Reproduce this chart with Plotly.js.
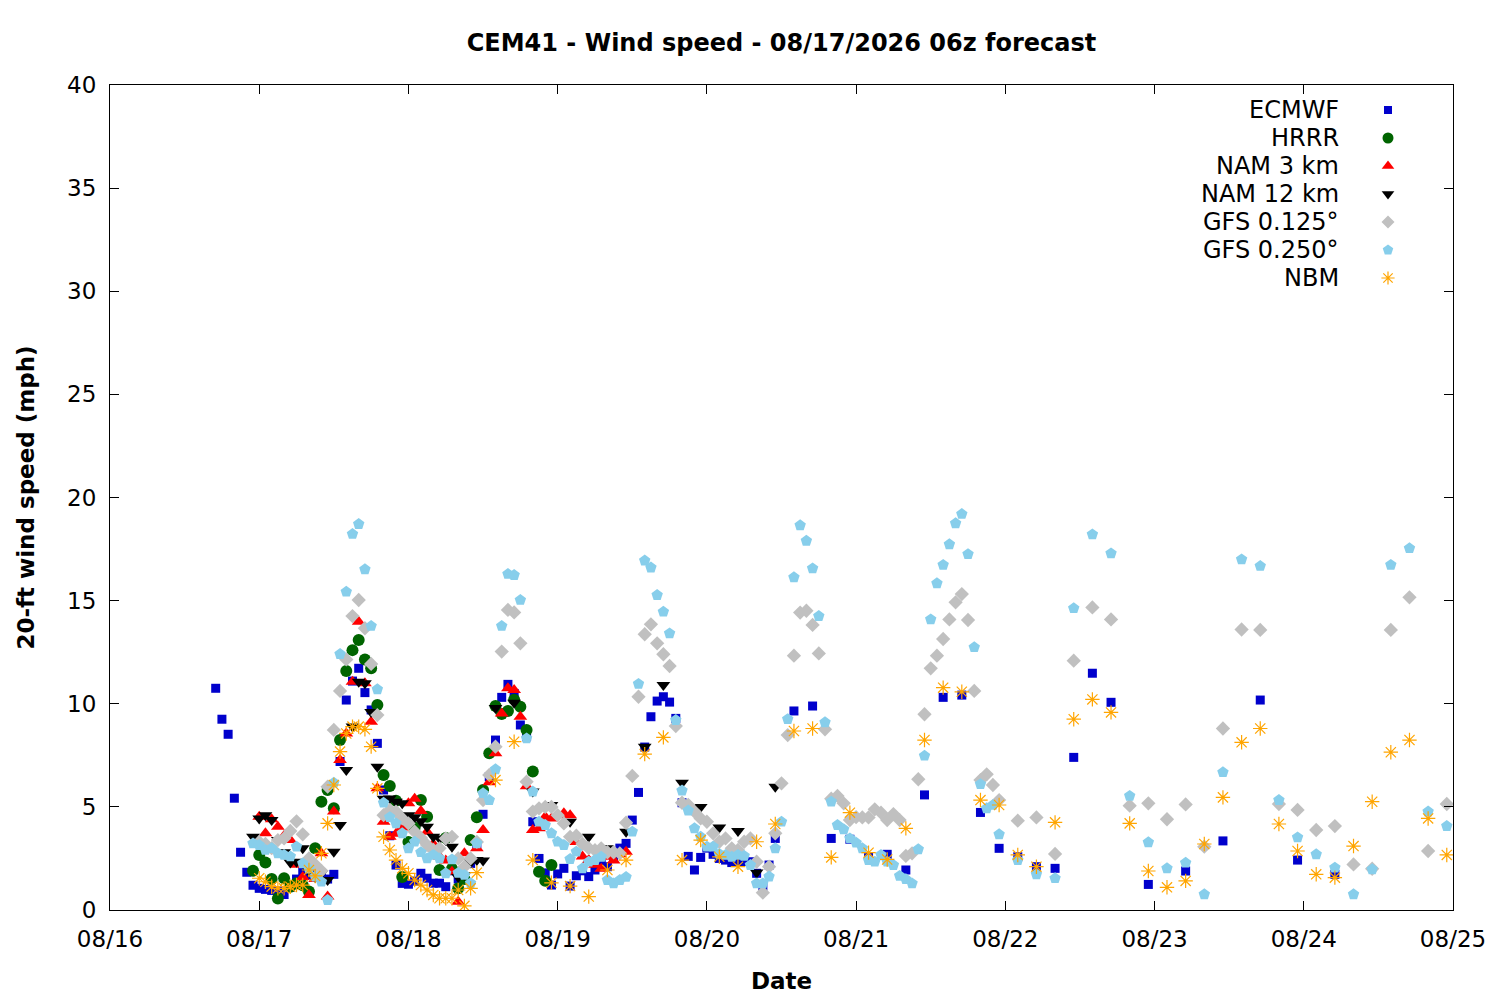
<!DOCTYPE html>
<html>
<head>
<meta charset="utf-8">
<script src="https://cdn.plot.ly/plotly-3.0.1.min.js"></script>
<style>
  html, body { margin: 0; padding: 0; background: #fff; }
  #chart { width: 1500px; height: 1000px; }
</style>
</head>
<body>
<div id="chart"></div>
<script>
// hours counted from 08/16 00:00, speeds in mph
const ecmwfHours = [
  17, 18, 19, 20, 21, 22, 23, 24, 25, 26, 27, 28, 29, 30, 31, 32, 33, 34, 35, 36,
  37, 38, 39, 40, 41, 42, 43, 44, 45, 46, 47, 48, 49, 50, 51, 52, 53, 54, 55, 56,
  57, 58, 59, 60, 61, 62, 63, 64, 65, 66, 67, 68, 69, 70, 71, 72, 73, 74, 75, 76,
  77, 78, 79, 80, 81, 82, 83, 84, 85, 86, 87, 88, 89, 90, 91, 92, 93, 94, 95, 96,
  97, 98, 99, 100, 101, 102, 103, 104, 105, 106, 107,
  110, 113, 116, 119, 122, 125, 128, 131, 134, 137, 140, 143, 146, 149, 152, 155, 158, 161,
  167, 173, 179, 185, 191, 197,
];
const ecmwfSpeed = [
  10.75, 9.25, 8.52, 5.42, 2.8, 1.83, 1.2, 1.05, 1.0, 0.95, 0.92, 0.75, 1.1, 1.5, 1.86, 1.7, 2.0, 1.6, 1.5, 1.73,
  7.2, 10.18, 11.1, 11.72, 10.54, 9.7, 8.08, 5.82, 3.6, 2.18, 1.29, 1.25, 1.4, 1.78, 1.54, 1.3, 1.3, 1.13, 1.9, 1.5,
  1.6, 2.26, 3.2, 4.64, 6.46, 8.24, 10.31, 10.94, 10.5, 8.97, 8.4, 4.28, 2.5, 1.8, 1.21, 1.75, 2.02, 1.16, 1.66, 1.9,
  1.62, 1.94, 2.2, 2.1, 2.5, 3.0, 3.23, 4.36, 5.7, 7.9, 9.37, 10.13, 10.34, 10.08, 9.29, 5.2, 2.6, 1.94, 2.55, 3.0,
  2.7, 2.5, 2.42, 2.3, 2.35, 2.35, 2.34, 1.78, 1.15, 2.18, 3.47,
  9.65, 9.89, 3.47, 3.43, 2.58, 2.7, 1.94, 5.58, 10.31, 10.42, 4.73, 2.99, 2.58, 2.1, 2.02, 7.4, 11.48, 10.07,
  1.24, 1.89, 3.35, 10.18, 2.42, 1.73,
];

const hrrrHours = [
  23, 24, 25, 26, 27, 28, 29, 30, 31, 32, 33, 34, 35, 36, 37, 38, 39, 40, 41, 42,
  43, 44, 45, 46, 47, 48, 49, 50, 51, 52, 53, 54, 55, 56, 57, 58, 59, 60, 61, 62,
  63, 64, 65, 66, 67, 68, 69, 70, 71,
];
const hrrrSpeed = [
  1.9, 2.67, 2.3, 1.5, 0.56, 1.54, 1.13, 1.3, 1.2, 0.9, 2.99, 5.25, 5.82, 4.93, 8.24, 11.59, 12.6, 13.09, 12.15, 11.72,
  9.94, 6.55, 6.01, 5.3, 1.6, 3.3, 4.0, 5.33, 4.52, 3.0, 1.94, 3.49, 2.0, 1.05, 1.5, 3.39, 4.5, 5.82, 7.6, 9.89,
  9.5, 9.65, 10.2, 9.86, 8.73, 6.71, 1.86, 1.42, 2.18,
];

const nam3Hours = [
  24, 25, 26, 27, 28, 29, 30, 31, 32, 33, 34, 35, 36, 37, 38, 39, 40, 41, 42, 43,
  44, 45, 46, 47, 48, 49, 50, 51, 52, 53, 54, 55, 56, 57, 58, 59, 60, 61, 62, 63,
  64, 65, 66, 67, 68, 69, 70, 71, 72, 73, 74, 75, 76, 77, 78, 79, 80, 81, 82, 83,
];
const nam3Speed = [
  4.52, 3.72, 4.4, 4.04, 3.6, 3.39, 2.2, 1.6, 0.73, 1.5, 2.75, 0.65, 4.77, 7.27, 8.56, 11.07, 13.98, 11.0, 9.13, 5.9,
  4.28, 3.55, 3.7, 4.0, 5.17, 5.4, 4.8, 3.8, 3.2, 2.6, 2.4, 1.86, 0.4, 2.75, 2.5, 3.0, 3.88, 6.2, 7.6, 9.53,
  10.75, 10.67, 9.37, 6.0, 3.88, 3.96, 4.52, 4.44, 4.6, 4.69, 4.6, 3.3, 2.6, 2.42, 2.2, 2.0, 2.58, 2.4, 2.7, 2.83,
];

const nam12Hours = [
  23, 24, 25, 26, 27, 28, 29, 30, 31, 32, 33, 34, 35, 36, 37, 38, 39, 40, 41, 42,
  43, 44, 45, 46, 47, 48, 49, 50, 51, 52, 53, 54, 55, 56, 57, 58, 59, 60,
  62, 65, 68, 71, 74, 77, 80, 83, 86, 89, 92, 95, 98, 101, 104, 107,
];
const nam12Speed = [
  3.55, 4.44, 4.6, 4.36, 3.4, 2.8, 2.3, 2.34, 2.99, 1.9, 1.6, 1.78, 1.45, 2.83, 4.12, 6.79, 8.9, 11.07, 11.0, 9.6,
  6.95, 5.4, 5.41, 5.25, 5.17, 4.6, 4.5, 4.3, 4.04, 3.55, 3.47, 3.4, 3.07, 1.6, 1.7, 2.3, 2.42, 2.4,
  9.8, 10.05, 5.74, 5.09, 4.28, 3.55, 3.0, 3.8, 7.92, 10.91, 6.17, 5.0, 4.0, 3.83, 1.82, 5.98,
];

const gfs125Hours = [
  24, 25, 26, 27, 28, 29, 30, 31, 32, 33, 34, 35, 36, 37, 38, 39, 40, 41, 42, 43,
  44, 45, 46, 47, 48, 49, 50, 51, 52, 53, 54, 55, 56, 57, 58, 59, 60, 61, 62, 63,
  64, 65, 66, 67, 68, 69, 70, 71, 72, 73, 74, 75, 76, 77, 78, 79, 80, 81, 82, 83,
  84, 85, 86, 87, 88, 89, 90, 91, 92, 93, 94, 95, 96, 97, 98, 99, 100, 101, 102, 103,
  104, 105, 106, 107, 108, 109, 110, 111, 112, 113, 114, 115, 116, 117, 118, 119, 120, 121, 122, 123,
  124, 125, 126, 127, 128, 129, 130, 131, 132, 133, 134, 135, 136, 137, 138, 139, 140, 141, 142, 143,
  146, 149, 152, 155, 158, 161, 164, 167, 170, 173, 176, 179, 182, 185, 188, 191, 194, 197, 200, 203,
  206, 209, 212, 215,
];
const gfs125Speed = [
  3.3, 3.2, 3.0, 3.39, 3.47, 3.83, 4.3, 3.67, 2.5, 2.2, 1.9, 5.98, 8.73, 10.62, 12.15, 14.25, 15.03, 13.66, 11.93, 9.45,
  4.6, 4.85, 4.77, 4.44, 4.2, 3.8, 3.5, 3.15, 2.91, 2.99, 3.47, 3.55, 2.5, 2.1, 2.5, 3.3, 5.33, 6.55, 7.92, 12.53,
  14.55, 14.43, 12.93, 6.22, 4.77, 4.93, 5.0, 5.0, 4.6, 4.2, 3.55, 3.6, 3.2, 3.0, 2.9, 2.99, 2.8, 2.8, 2.75, 4.23,
  6.5, 10.34, 13.37, 13.85, 12.93, 12.4, 11.83, 8.92, 5.2, 5.1, 4.77, 4.44, 4.28, 3.72, 3.31, 3.47, 2.99, 2.91, 3.31, 3.47,
  2.34, 0.84, 2.1, 3.72, 6.14, 8.48, 12.33, 14.42, 14.51, 13.82, 12.44, 8.76, 5.4, 5.53, 5.17, 4.36, 4.5, 4.49, 4.49, 4.88,
  4.72, 4.36, 4.65, 4.36, 2.62, 2.75, 6.34, 9.49, 11.72, 12.33, 13.14, 14.09, 14.92, 15.32, 14.06, 10.62, 6.3, 6.58, 6.06, 5.33,
  4.33, 4.49, 2.72, 12.09, 14.67, 14.09, 5.06, 5.17, 4.4, 5.12, 3.07, 8.8, 13.6, 13.58, 5.14, 4.85, 3.88, 4.07, 2.21, 2.0,
  13.58, 15.16, 2.86, 5.14,
];

const gfs250Hours = [
  23, 24, 25, 26, 27, 28, 29, 30, 31, 32, 33, 34, 35, 36, 37, 38, 39, 40, 41, 42,
  43, 44, 45, 46, 47, 48, 49, 50, 51, 52, 53, 54, 55, 56, 57, 58, 59, 60, 61, 62,
  63, 64, 65, 66, 67, 68, 69, 70, 71, 72, 73, 74, 75, 76, 77, 78, 79, 80, 81, 82,
  83, 84, 85, 86, 87, 88, 89, 90, 91, 92, 93, 94, 95, 96, 97, 98, 99, 100, 101, 102,
  103, 104, 105, 106, 107, 108, 109, 110, 111, 112, 113, 114, 115, 116, 117, 118, 119, 120, 121, 122,
  123, 124, 125, 126, 127, 128, 129, 130, 131, 132, 133, 134, 135, 136, 137, 138, 139, 140, 141, 142,
  143,
  146, 149, 152, 155, 158, 161, 164, 167, 170, 173, 176, 179, 182, 185, 188, 191, 194, 197, 200, 203,
  206, 209, 212, 215,
];
const gfs250Speed = [
  3.23, 3.15, 2.91, 3.0, 2.75, 2.67, 2.6, 3.07, 2.26, 2.0, 1.62, 1.37, 0.48, 6.17, 12.41, 15.43, 18.23, 18.71, 16.52, 13.77,
  10.7, 5.2, 4.5, 4.2, 3.72, 2.99, 3.31, 2.8, 2.5, 2.67, 2.5, 1.78, 2.45, 1.8, 1.7, 1.3, 3.23, 5.66, 5.33, 6.82,
  13.77, 16.29, 16.24, 15.03, 8.32, 5.74, 4.28, 4.12, 3.72, 3.31, 3.15, 2.47, 2.83, 2.02, 2.34, 2.42, 2.58, 1.45, 1.29, 1.45,
  1.6, 3.8, 10.96, 16.94, 16.6, 15.27, 14.46, 13.41, 9.21, 5.79, 4.82, 3.96, 3.55, 3.07, 3.07, 2.72, 2.67, 2.58, 2.67, 2.62,
  2.18, 1.29, 1.29, 1.62, 2.99, 4.28, 9.25, 16.13, 18.65, 17.9, 16.56, 14.25, 9.1, 5.25, 4.12, 3.91, 3.47, 3.26, 2.99, 2.42,
  2.34, 2.67, 2.34, 2.18, 1.65, 1.49, 1.29, 2.94, 7.48, 14.09, 15.84, 16.73, 17.73, 18.75, 19.2, 17.25, 12.74, 6.1, 4.93, 5.09,
  3.67,
  2.42, 1.73, 1.54, 14.63, 18.21, 17.29, 5.53, 3.28, 2.02, 2.29, 0.76, 6.68, 17.0, 16.68, 5.33, 3.52, 2.7, 2.05, 0.76, 1.97,
  16.73, 17.54, 4.77, 4.07,
];

const nbmHours = [
  24, 25, 26, 27, 28, 29, 30, 31, 32, 33, 34, 35, 36, 37, 38, 39, 40, 41, 42, 43,
  44, 45, 46, 47, 48, 49, 50, 51, 52, 53, 54, 55, 56, 57, 58, 59,
  62, 65, 68, 71, 74, 77, 80, 83, 86, 89, 92, 95, 98, 101, 104, 107, 110, 113, 116, 119,
  122, 125, 128, 131, 134, 137, 140, 143, 146, 149, 152, 155, 158, 161, 164, 167, 170, 173, 176, 179,
  182, 185, 188, 191, 194, 197, 200, 203, 206, 209, 212, 215,
];
const nbmSpeed = [
  1.54, 1.37, 1.13, 1.05, 1.05, 1.13, 1.21, 1.21, 1.94, 1.65, 2.75, 4.2, 6.06, 7.68, 8.56, 8.89, 8.89, 8.76, 7.92, 5.9,
  3.55, 2.91, 2.42, 2.02, 1.78, 1.45, 1.21, 0.97, 0.73, 0.57, 0.57, 0.57, 0.97, 0.2, 1.05, 1.81,
  6.3, 8.16, 2.42, 1.32, 1.16, 0.65, 1.94, 2.42, 7.56, 8.37, 2.42, 3.39, 2.58, 2.1, 3.31, 4.17, 8.68, 8.8, 2.55, 4.72,
  2.78, 2.45, 3.96, 8.24, 10.78, 10.58, 5.33, 5.09, 2.67, 2.1, 4.25, 9.25, 10.21, 9.58, 4.2, 1.89, 1.1, 1.41, 3.2, 5.46,
  8.13, 8.8, 4.17, 2.86, 1.73, 1.57, 3.1, 5.25, 7.65, 8.24, 4.44, 2.67,
];

const SERIES = [
  { name: "ECMWF", hours: ecmwfHours, speed: ecmwfSpeed, symbol: "square", color: "#0000cc", size: 9 },
  { name: "HRRR", hours: hrrrHours, speed: hrrrSpeed, symbol: "circle", color: "#006400", size: 12 },
  { name: "NAM 3 km", hours: nam3Hours, speed: nam3Speed, symbol: "triangle-up", color: "#ff0000", size: 12 },
  { name: "NAM 12 km", hours: nam12Hours, speed: nam12Speed, symbol: "triangle-down", color: "#000000", size: 12 },
  { name: "GFS 0.125°", hours: gfs125Hours, speed: gfs125Speed, symbol: "diamond", color: "#c0c0c0", size: 11 },
  { name: "GFS 0.250°", hours: gfs250Hours, speed: gfs250Speed, symbol: "pentagon", color: "#87ceeb", size: 12 },
  { name: "NBM", hours: nbmHours, speed: nbmSpeed, symbol: "asterisk-open", color: "#ffa500", size: 12 },
];

const FONT = "DejaVu Sans, Liberation Sans, sans-serif";
const START = Date.UTC(2026, 7, 16);

function hourToDate(h) {
  return new Date(START + h * 3600000).toISOString().slice(0, 16).replace("T", " ");
}

function markerFor(s) {
  const open = s.symbol.endsWith("-open");
  return {
    symbol: s.symbol,
    color: s.color,
    size: s.size,
    line: { color: s.color, width: open ? 1.2 : 0 },
  };
}

const traces = SERIES.map((s) => ({
  type: "scatter",
  mode: "markers",
  name: s.name,
  x: s.hours.map(hourToDate),
  y: s.speed,
  marker: markerFor(s),
  showlegend: false,
  hovertemplate: `${s.name}<br>%{x}<br>%{y:.1f} mph<extra></extra>`,
}));

// legend keys drawn on an invisible overlay axis, text right-aligned like gnuplot
const KEY_X = 0.9516;
const TEXT_X = 0.9166;
const KEY_TOP = 0.9697;
const KEY_STEP = 0.03394;

SERIES.forEach((s, i) => {
  traces.push({
    type: "scatter",
    mode: "markers",
    xaxis: "x2",
    yaxis: "y2",
    x: [KEY_X],
    y: [KEY_TOP - i * KEY_STEP],
    marker: { ...markerFor(s), size: s.size - 1 },
    showlegend: false,
    hoverinfo: "skip",
  });
});

const annotations = SERIES.map((s, i) => ({
  xref: "paper",
  yref: "paper",
  x: TEXT_X,
  y: KEY_TOP - i * KEY_STEP,
  xanchor: "right",
  yanchor: "middle",
  text: s.name,
  showarrow: false,
  font: { family: FONT, size: 24, color: "#000" },
}));

const layout = {
  width: 1500,
  height: 1000,
  paper_bgcolor: "#fff",
  plot_bgcolor: "#fff",
  margin: { l: 110, r: 47, t: 85, b: 90 },
  font: { family: FONT, size: 22, color: "#000" },
  title: {
    text: "<b>CEM41 - Wind speed - 08/17/2026 06z forecast</b>",
    x: 0.5,
    xref: "paper",
    y: 0.957,
    yref: "container",
    yanchor: "middle",
    font: { family: FONT, size: 24, color: "#000" },
  },
  xaxis: {
    type: "date",
    range: ["2026-08-16", "2026-08-25"],
    dtick: 86400000,
    tick0: "2026-08-16",
    tickformat: "%m/%d",
    ticks: "inside",
    ticklen: 9,
    tickwidth: 1,
    tickcolor: "#000",
    showline: true,
    linecolor: "#000",
    linewidth: 1,
    mirror: "allticks",
    showgrid: false,
    zeroline: false,
    ticklabelstandoff: 8,
    tickfont: { family: FONT, size: 23, color: "#000" },
    title: { text: "<b>Date</b>", font: { family: FONT, size: 23, color: "#000" }, standoff: 22 },
  },
  yaxis: {
    range: [0, 40],
    dtick: 5,
    ticks: "inside",
    ticklen: 9,
    tickwidth: 1,
    tickcolor: "#000",
    showline: true,
    linecolor: "#000",
    linewidth: 1,
    mirror: "allticks",
    showgrid: false,
    zeroline: false,
    ticklabelstandoff: 8,
    tickfont: { family: FONT, size: 23, color: "#000" },
    title: { text: "<b>20-ft wind speed (mph)</b>", font: { family: FONT, size: 23, color: "#000" }, standoff: 26 },
  },
  xaxis2: { overlaying: "x", anchor: "y2", range: [0, 1], visible: false, fixedrange: true },
  yaxis2: { overlaying: "y", anchor: "x2", range: [0, 1], visible: false, fixedrange: true },
  annotations,
  showlegend: false,
};

Plotly.newPlot("chart", traces, layout, { displayModeBar: false, responsive: false });
</script>
</body>
</html>
